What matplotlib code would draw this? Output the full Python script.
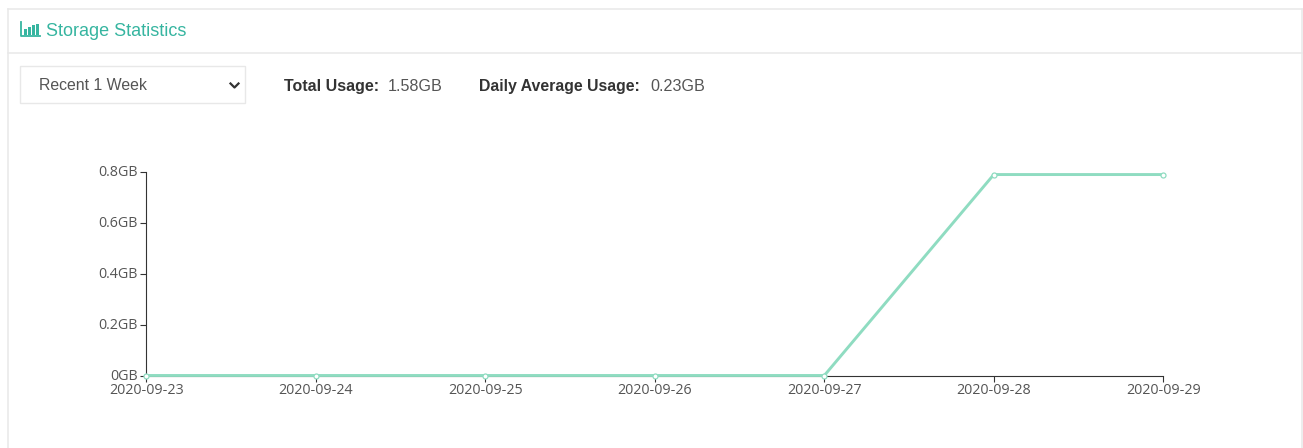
import matplotlib.pyplot as plt
from matplotlib.patches import Rectangle
from matplotlib.transforms import ScaledTranslation

W = 1303
H = 448

dates = ['2020-09-23', '2020-09-24', '2020-09-25', '2020-09-26',
         '2020-09-27', '2020-09-28', '2020-09-29']
usage = [0, 0, 0, 0, 0, 0.79, 0.79]
y_ticks = [0, 0.2, 0.4, 0.6, 0.8]
y_labels = ['0GB', '0.2GB', '0.4GB', '0.6GB', '0.8GB']

TEAL = '#36b5a0'
LINE = '#8fdcc1'
BORDER = '#e8e8e8'

dpi = 100
fig = plt.figure(figsize=(W / dpi, H / dpi), dpi=dpi)

# overlay in pixel coordinates for the page furniture
page = fig.add_axes([0, 0, 1, 1])
page.set_xlim(0, W)
page.set_ylim(H, 0)
page.axis('off')

# panel border and header rule
page.plot([7.5, 7.5], [448, 9], color=BORDER, lw=1.1)
page.plot([7.5, 1302], [9, 9], color=BORDER, lw=1.1)
page.plot([1302, 1302], [9, 448], color=BORDER, lw=1.1)
page.plot([7.5, 1302], [53.5, 53.5], color=BORDER, lw=1.1)

# header icon: little bar chart
page.plot([20.5, 20.5, 40], [22, 36.5, 36.5], color=TEAL, lw=1.3)
for x, top in zip([24.2, 28, 31.8, 35.6], [29, 27, 25, 24]):
    page.add_patch(Rectangle((x, top), 3, 35.5 - top, color=TEAL, lw=0))
page.text(46, 31, 'Storage Statistics', color=TEAL, fontsize=12.95,
          family='Liberation Sans', va='center')

# dropdown
page.add_patch(Rectangle((20, 66.5), 225, 37, fc='white', ec=BORDER, lw=1))
page.text(39, 86, 'Recent 1 Week', color='#555555', fontsize=11.45,
          family='Liberation Sans', va='center')
page.plot([230.5, 234.5, 238.5], [83.5, 87.5, 83.5], color='#333333', lw=1.6)

# usage summary
page.text(284.5, 86, 'Total Usage:', color='#333333', fontsize=11.5,
          family='Liberation Sans', weight='bold', va='center')
page.text(388, 86.5, '1.58GB', color='#555555', fontsize=11.6,
          family='Liberation Sans', va='center')
page.text(479, 86, 'Daily Average Usage:', color='#333333', fontsize=11.45,
          family='Liberation Sans', weight='bold', va='center')
page.text(650, 86.5, '0.23GB', color='#555555', fontsize=11.6,
          family='Liberation Sans', va='center')

# chart, axis box placed to the pixel
left, right, top, bottom = 146.3, 1163.3, 172, 375.5
ax = fig.add_axes([left / W, 1 - bottom / H, (right - left) / W, (bottom - top) / H])
ax.patch.set_alpha(0)
xs = list(range(len(dates)))
ax.plot(xs, usage, color=LINE, lw=2.1, marker='o', ms=3.6, mfc='white',
        mec=LINE, mew=0.9, clip_on=False, zorder=5)
ax.set_xlim(0, 6)
ax.set_ylim(0, 0.8)
ax.set_xticks(xs)
ax.set_xticklabels(dates)
ax.set_yticks(y_ticks)
ax.set_yticklabels(y_labels)
for side in ['top', 'right']:
    ax.spines[side].set_visible(False)
for side in ['left', 'bottom']:
    ax.spines[side].set_color('#333333')
    ax.spines[side].set_linewidth(0.8)
ax.tick_params(axis='both', length=4, width=0.8, color='#333333',
               labelcolor='#555555', labelsize=10.3)
ax.tick_params(axis='x', pad=1.7)
ax.tick_params(axis='y', pad=2.2)
for label in ax.get_xticklabels() + ax.get_yticklabels():
    label.set_family('Open Sans')
# y labels sit a little above their ticks in the original
nudge = ScaledTranslation(0, 1.5 / dpi, fig.dpi_scale_trans)
for label in ax.get_yticklabels():
    label.set_transform(label.get_transform() + nudge)

fig.savefig('out.png', dpi=dpi)
